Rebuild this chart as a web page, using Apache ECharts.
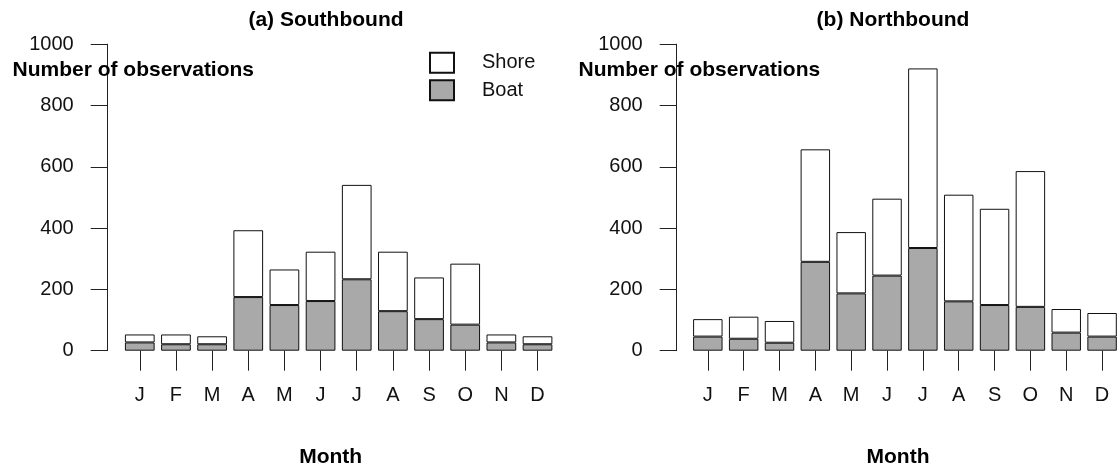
<!DOCTYPE html>
<html>
<head>
<meta charset="utf-8">
<script src="https://cdn.jsdelivr.net/npm/echarts@6/dist/echarts.min.js"></script>
<style>
html,body{margin:0;padding:0;background:#fff;}
#chart{width:1120px;height:469px;}
</style>
</head>
<body>
<div id="chart"></div>
<script>
// ---- data ----
const months = ['J','F','M','A','M','J','J','A','S','O','N','D'];
const yTicks = [0, 200, 400, 600, 800, 1000];
const southBoat  = [27, 21, 21, 175, 149, 162, 233, 129, 103, 85, 27, 21];
const southShore = [26, 32, 26, 218, 116, 161, 308, 194, 136, 199, 26, 26];
const northBoat  = [46, 39, 26, 290, 187, 245, 335, 161, 149, 143, 59, 46];
const northShore = [57, 72, 71, 367, 200, 251, 586, 348, 314, 443, 77, 77];
const panelTitles = ['(a) Southbound', '(b) Northbound'];
const yName = 'Number of observations';
const xName = 'Month';

const FONT = '"Liberation Sans", Arial, Helvetica, sans-serif';
const chart = echarts.init(document.getElementById('chart'), null, {renderer: 'canvas'});

const grids = [
  {left: 121.7, top: 44.2, width: 433.9, height: 306.5},
  {left: 689.9, top: 44.2, width: 433.6, height: 306.5}
];
const axisOffsets = [14, 13.2];

function xAxis(i) {
  return {
    type: 'category', gridIndex: i, data: months,
    axisLine: {show: false},
    axisTick: {show: true, alignWithLabel: true, length: 20, lineStyle: {color: '#222', width: 1}},
    axisLabel: {color: '#111', fontFamily: FONT, fontSize: 20, margin: 35, interval: 0},
    splitLine: {show: false}
  };
}
function yAxis(i) {
  return {
    type: 'value', gridIndex: i, min: yTicks[0], max: yTicks[yTicks.length - 1], interval: 200,
    offset: axisOffsets[i],
    axisLine: {show: true, lineStyle: {color: '#222', width: 1}},
    axisTick: {show: true, length: 17, lineStyle: {color: '#222', width: 1}},
    axisLabel: {color: '#111', fontFamily: FONT, fontSize: 20, margin: 34, padding: [10, 0, 0, 0],
      formatter: function (v) { return String(v); }},
    splitLine: {show: false}
  };
}
const boatStyle = {color: '#a9a9a9', borderColor: '#111', borderWidth: 1};
const shoreStyle = {color: '#ffffff', borderColor: '#111', borderWidth: 1};
function bars(i, boat, shore) {
  return [
    {name: 'Boat', type: 'bar', xAxisIndex: i, yAxisIndex: i, stack: 's' + i, data: boat,
     barCategoryGap: '17.8%', itemStyle: boatStyle, emphasis: {disabled: true}},
    {name: 'Shore', type: 'bar', xAxisIndex: i, yAxisIndex: i, stack: 's' + i, data: shore,
     barCategoryGap: '17.8%', itemStyle: shoreStyle, emphasis: {disabled: true}}
  ];
}
function txt(x, y, text, opts) {
  return {
    type: 'text', x: x, y: y, silent: true, z: 100,
    style: Object.assign({text: text, fill: '#000', fontFamily: FONT, fontSize: 21, fontWeight: 'bold',
      textAlign: 'center', textVerticalAlign: 'middle'}, opts || {})
  };
}

chart.setOption({
  animation: false,
  backgroundColor: '#ffffff',
  grid: grids,
  xAxis: [xAxis(0), xAxis(1)],
  yAxis: [yAxis(0), yAxis(1)],
  legend: {
    data: ['Shore', 'Boat'], orient: 'vertical', left: 424, top: 46.7,
    itemWidth: 24, itemHeight: 20, itemGap: 5.6, icon: 'rect', selectedMode: false,
    textStyle: {fontFamily: FONT, fontSize: 20, color: '#111', padding: [6, 0, 0, 23]}
  },
  series: [].concat(bars(0, southBoat, southShore), bars(1, northBoat, northShore)),
  graphic: [
    txt(326, 20, panelTitles[0]),
    txt(893, 20, panelTitles[1]),
    txt(12.5, 70, yName, {textAlign: 'left'}),
    txt(578.6, 70, yName, {textAlign: 'left'}),
    txt(330.7, 457, xName),
    txt(898, 457, xName)
  ]
});
</script>
</body>
</html>
